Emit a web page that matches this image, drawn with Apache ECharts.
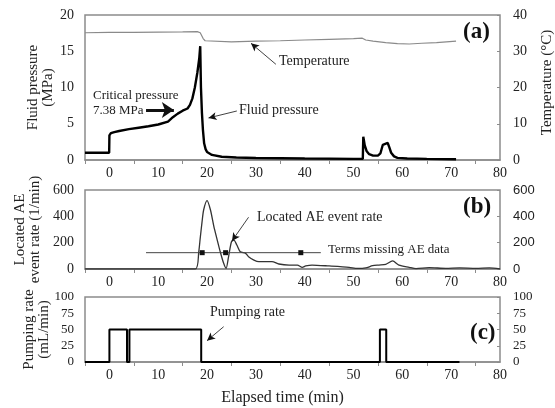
<html>
<head>
<meta charset="UTF-8">
<script src="https://cdn.jsdelivr.net/npm/echarts@6/dist/echarts.min.js"></script>
</head>
<body style="margin:0">
<div id="chart" style="width:555px;height:408px;"></div>
<script type="text/javascript">
// (a) fluid pressure (MPa) and temperature (C)
var pressTime = [-5, -0.05, 0, 0.3, 1, 2, 4, 6, 8, 10, 12, 13, 14, 15, 16, 16.5, 17, 17.5, 18, 18.4, 18.6, 18.75, 18.95, 19.15, 19.4, 19.7, 20, 21, 23, 26, 30, 40, 50, 51.9, 52, 52.3, 52.7, 53.2, 54, 55, 55.5, 55.8, 56, 56.3, 57, 57.3, 57.7, 58.3, 59, 61, 65, 71];
var pressure  = [1.0, 1.0, 3.4, 3.7, 3.85, 4.0, 4.25, 4.45, 4.65, 4.9, 5.3, 5.9, 6.4, 6.8, 7.1, 7.6, 8.5, 10, 12, 14, 15.7, 10, 6.5, 4.2, 2.3, 1.5, 1.1, 0.7, 0.45, 0.35, 0.28, 0.2, 0.15, 0.15, 3.2, 2.0, 1.2, 0.8, 0.6, 0.6, 0.9, 1.0, 2.1, 2.35, 2.35, 1.8, 1.0, 0.5, 0.3, 0.2, 0.15, 0.1];
var tempTime = [-5, 0, 5, 10, 15, 18, 18.6, 19.2, 19.6, 20, 25, 30, 35, 40, 45, 50, 51.8, 52.5, 54, 56.6, 59, 61.4, 64, 67, 71];
var temperature = [35.1, 35.2, 35.2, 35.3, 35.35, 35.4, 35.1, 33.5, 32.9, 32.6, 32.6, 32.8, 32.9, 33.1, 33.3, 33.5, 33.6, 33.1, 32.8, 32.4, 32.1, 32.0, 32.2, 32.4, 32.8];
// (b) located AE event rate (1/min)
var aeTime = [-5, 17.6, 18.3, 18.6, 18.95, 19.3, 20.0, 20.7, 21.4, 22.0, 22.7, 23.4, 23.9, 24.4, 25.0, 25.5, 26.1, 26.8, 27.9, 28.5, 29.6, 30.6, 33.3, 34.7, 36.8, 38.5, 39.5, 40.2, 41.5, 45, 49.1, 50.8, 52.5, 53.9, 55.2, 56.6, 58.0, 59.3, 61.4, 62.8, 65.5, 68.9, 71.7, 75.1, 77.8, 80];
var aeRate = [0, 0, 131, 235, 350, 448, 519, 448, 322, 233, 131, 43, 5, 93, 207, 220, 182, 131, 119, 93, 68, 56, 56, 38, 30, 30, 13, 23, 30, 23, 13, 4, 8, 25, 30, 35, 61, 30, 13, 3, 10, 5, 8, 5, 8, 0];
var gapTime = [7.5, 19.0, 23.8, 39.2, 43.3];
var gapLevel = 124;
// (c) pumping rate (mL/min)
var pumpTime = [-5, 0, 0, 3.6, 3.6, 4.1, 4.1, 18.8, 18.8, 55.4, 55.4, 56.7, 56.7, 71.7];
var pumpRate = [0, 0, 50, 50, 0, 0, 50, 50, 0, 0, 50, 50, 0, 0];

var xTicks = [-5, 5, 15, 25, 35, 45, 55, 65, 75];
var xLabels = [0, 10, 20, 30, 40, 50, 60, 70, 80];

function zip(a, b) {
  var out = [];
  for (var i = 0; i < a.length; i++) out.push([a[i], b[i]]);
  return out;
}

var serif = '"Liberation Serif", "Times New Roman", serif';
var frame = '#8c8c8c';

function xAxisFor(idx, name) {
  return {
    type: 'value', gridIndex: idx, min: -5, max: 80,
    name: name || '', nameLocation: 'middle', nameGap: 28, nameMoveOverlap: false,
    nameTextStyle: { fontFamily: serif, fontSize: 16, color: '#222', padding: [0, 20, 0, 0] },
    axisLine: { show: true, lineStyle: { color: frame, width: 1.5 } },
    axisTick: { show: true, customValues: xTicks, length: 4, lineStyle: { color: frame } },
    axisLabel: { customValues: xLabels, fontFamily: serif, fontSize: 14, color: '#222', margin: 6 },
    splitLine: { show: false }
  };
}

function yAxisFor(idx, pos, max, step, name, gap, font, size) {
  return {
    type: 'value', gridIndex: idx, position: pos, min: 0, max: max, interval: step,
    name: name, nameLocation: 'middle', nameRotate: 90, nameGap: gap, nameMoveOverlap: false,
    nameTextStyle: { fontFamily: serif, fontSize: 15, color: '#222', lineHeight: 15 },
    axisLine: { show: false },
    axisTick: { show: pos === 'right', inside: true, length: 3, lineStyle: { color: frame } },
    axisLabel: { fontFamily: font || serif, fontSize: size || 14, color: '#222', margin: pos === 'right' ? 13 : 11 },
    splitLine: { show: false }
  };
}

var myChart = echarts.init(document.getElementById('chart'));

var tempAxis = yAxisFor(0, 'right', 40, 10, 'Temperature (°C)', 40);
tempAxis.nameTextStyle.padding = [0, 0, 0, 10];

function arrow(from, to, width, size) {
  return [
    { coord: from, symbol: 'none', lineStyle: { width: width, color: '#111' } },
    { coord: to, symbol: 'arrow', symbolSize: size }
  ];
}

function gridAt(top, height) {
  return {
    left: 85, top: top, width: 415, height: height,
    show: true, borderColor: frame, borderWidth: 1.5,
    containLabel: false, outerBoundsMode: 'none'
  };
}

myChart.setOption({
  animation: false,
  backgroundColor: '#fff',
  grid: [gridAt(15, 145), gridAt(190, 79), gridAt(297, 65)],
  xAxis: [xAxisFor(0), xAxisFor(1), xAxisFor(2, 'Elapsed time (min)')],
  yAxis: [
    yAxisFor(0, 'left', 20, 5, 'Fluid pressure\n(MPa)', 29),
    tempAxis,
    yAxisFor(1, 'left', 600, 200, 'Located AE\nevent rate (1/min)', 42),
    yAxisFor(1, 'right', 600, 200, '', 0, '"Liberation Sans", Arial, sans-serif', 13),
    yAxisFor(2, 'left', 100, 25, 'Pumping rate\n(mL/min)', 33, serif, 13),
    yAxisFor(2, 'right', 100, 25, '', 0, serif, 13)
  ],
  series: [
    {
      name: 'Fluid pressure', type: 'line', xAxisIndex: 0, yAxisIndex: 0,
      data: zip(pressTime, pressure), showSymbol: false,
      lineStyle: { color: '#000', width: 2.4 },
      markLine: {
        silent: true, animation: false, label: { show: false },
        lineStyle: { type: 'solid', color: '#111', width: 1 },
        data: [
          arrow([7.5, 6.9], [13.2, 6.9], 3, [12, 12]),
          arrow([26.1, 6.76], [20.3, 5.8], 0.8, [6, 8]),
          arrow([34.1, 13.2], [29.0, 16.1], 0.8, [6, 8])
        ]
      }
    },
    {
      name: 'Temperature', type: 'line', xAxisIndex: 0, yAxisIndex: 1,
      data: zip(tempTime, temperature), showSymbol: false,
      lineStyle: { color: '#8a8a8a', width: 1.2 }
    },
    {
      name: 'Located AE event rate', type: 'line', xAxisIndex: 1, yAxisIndex: 2,
      data: zip(aeTime, aeRate), showSymbol: false, smooth: 0.25,
      lineStyle: { color: '#333', width: 1.3 },
      markLine: {
        silent: true, animation: false, label: { show: false },
        lineStyle: { type: 'solid', color: '#111', width: 1 },
        data: [arrow([28.5, 393], [25.1, 213], 0.8, [6, 8])]
      }
    },
    {
      name: 'Terms missing AE data', type: 'line', xAxisIndex: 1, yAxisIndex: 2,
      data: gapTime.map(function (t, i) {
        var edge = i === 0 || i === gapTime.length - 1;
        return { value: [t, gapLevel], symbol: edge ? 'none' : 'rect' };
      }),
      symbolSize: 5, lineStyle: { color: '#444', width: 1 },
      itemStyle: { color: '#111' }
    },
    {
      name: 'Pumping rate', type: 'line', xAxisIndex: 2, yAxisIndex: 4,
      data: zip(pumpTime, pumpRate), showSymbol: false,
      lineStyle: { color: '#000', width: 2 },
      markLine: {
        silent: true, animation: false, label: { show: false },
        lineStyle: { type: 'solid', color: '#111', width: 1 },
        data: [arrow([23.4, 54.3], [20.0, 32.8], 0.8, [6, 8])]
      }
    }
  ],
  graphic: [
    { type: 'text', left: 93, top: 89, style: { text: 'Critical pressure', font: '13px ' + serif, fill: '#222' } },
    { type: 'text', left: 93, top: 104, style: { text: '7.38 MPa', font: '13px ' + serif, fill: '#222' } },
    { type: 'text', left: 239, top: 103, style: { text: 'Fluid pressure', font: '14px ' + serif, fill: '#222' } },
    { type: 'text', left: 279, top: 54, style: { text: 'Temperature', font: '14px ' + serif, fill: '#222' } },
    { type: 'text', left: 463, top: 21, style: { text: '(a)', font: 'bold 23px ' + serif, fill: '#111' } },
    { type: 'text', left: 257, top: 210, style: { text: 'Located AE event rate', font: '14px ' + serif, fill: '#222' } },
    { type: 'text', left: 328, top: 243, style: { text: 'Terms missing AE data', font: '13px ' + serif, fill: '#222' } },
    { type: 'text', left: 463, top: 196, style: { text: '(b)', font: 'bold 23px ' + serif, fill: '#111' } },
    { type: 'text', left: 210, top: 305, style: { text: 'Pumping rate', font: '14px ' + serif, fill: '#222' } },
    { type: 'text', left: 470, top: 322, style: { text: '(c)', font: 'bold 23px ' + serif, fill: '#111' } }
  ]
});
</script>
</body>
</html>
